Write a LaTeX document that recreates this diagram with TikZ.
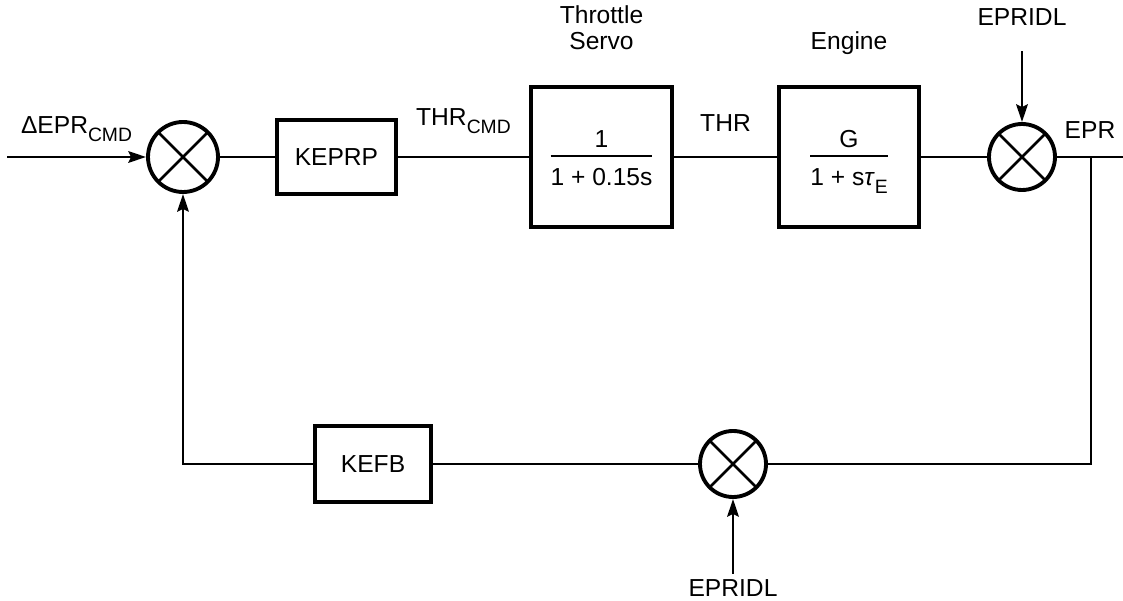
\documentclass[tikz,border=0pt]{standalone}
\usepackage{fontspec}
\setmainfont{Liberation Sans}
\usetikzlibrary{positioning, arrows.meta}
\tikzset{blk/.style={draw, line width=2.3pt, align=center, inner sep=0pt, minimum width=2.4cm, minimum height=1.5cm},sumj/.style={draw, circle, line width=2.2pt, inner sep=0pt, minimum size=1.32cm, path picture={\draw[line width=1.5pt] (path picture bounding box.north west) -- (path picture bounding box.south east) (path picture bounding box.north east) -- (path picture bounding box.south west);}},sig/.style={line width=1.6pt},sigarr/.style={-{Stealth[length=10pt, width=6.5pt, inset=1.5pt]}, line width=1.6pt},lbl/.style={inner sep=2pt, align=center}}
\newcommand{\blkfrac}[2]{\setlength{\arrayrulewidth}{1.1pt}\begin{tabular}{@{}c@{}}\rule{0pt}{15pt}#1\\\hline\rule{0pt}{16pt}#2\end{tabular}}
\newcommand{\lowsub}[1]{\raisebox{-4.5pt}{\fontsize{11}{12}\selectfont #1}}

\begin{document}
\begin{tikzpicture}[font=\fontsize{14}{14.8}\selectfont]
  \useasboundingbox (0,0) rectangle (22.46,-12.02);

  % forward path
  \node[sumj, minimum size=1.4cm] (sum1) at (3.66,-3.14) {};
  \node[blk, right=1.1cm of sum1, minimum width=2.38cm, minimum height=1.48cm] (keprp) {KEPRP};
  \node[blk, right=2.62cm of keprp, minimum width=2.82cm, minimum height=2.8cm] (thr) {\blkfrac{1}{1 + 0.15s}};
  \node[blk, right=2.06cm of thr, minimum width=2.8cm, minimum height=2.8cm] (eng) {\blkfrac{G}{1 + s\textit{τ}\lowsub{E}}};
  \node[sumj, right=1.32cm of eng] (sum2) {};
  \node[lbl, above=0.63cm of thr] (thrlbl) {Throttle\\Servo};
  \node[lbl, above=0.63cm of eng, text depth=0pt] (englbl) {Engine};
  \coordinate (in) at (0.14,-3.14);
  \coordinate[right=0.68cm of sum2] (br);
  \coordinate (out) at (22.46,-3.14);

  % idle inputs
  \coordinate[above=1.42cm of sum2] (idlTa);
  \node[lbl, above=0.44cm of idlTa] (idlT) {EPRIDL};

  % feedback path
  \node[sumj] (sumB) at (14.66,-9.28) {};
  \node[blk, left=5.3cm of sumB, minimum width=2.32cm, minimum height=1.52cm] (kefb) {KEFB};
  \node[lbl, inner sep=3pt, below=1.5cm of sumB] (idlB) {EPRIDL};

  \draw[sigarr] (in) -- node[lbl, midway, above=0.2cm] (dcmd) {ΔEPR\lowsub{CMD}} (sum1);
  \draw[sig] (sum1) -- (keprp);
  \draw[sig] (keprp) -- node[lbl, midway, above=0.36cm] (thrcmd) {THR\lowsub{CMD}} (thr);
  \draw[sig] (thr) -- node[lbl, midway, above=0.42cm] (thrsig) {THR} (eng);
  \draw[sig] (eng) -- (sum2);
  \draw[sig] (sum2) -- node[lbl, midway, above=0.27cm] (eprsig) {EPR} (out);
  \draw[sigarr] (idlTa) -- (sum2);
  \draw[sig] (br) |- (sumB);
  \draw[sig] (sumB) -- (kefb);
  \draw[sigarr] (kefb) -| (sum1);
  \draw[sigarr] (idlB) -- (sumB);
\end{tikzpicture}
\end{document}
